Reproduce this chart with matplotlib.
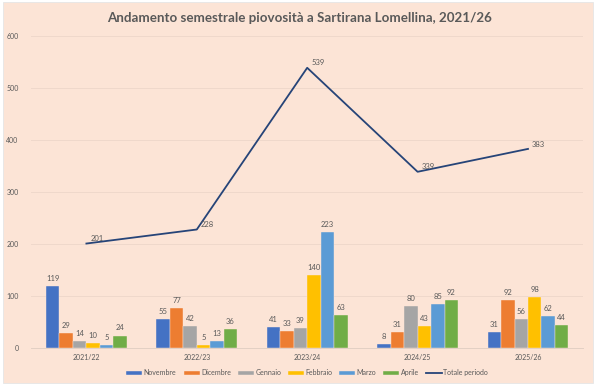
import numpy as np
import matplotlib
matplotlib.use("Agg")
import matplotlib.pyplot as plt
from matplotlib.patches import Rectangle

# Data
periods = ["2021/22", "2022/23", "2023/24", "2024/25", "2025/26"]
months = ["Novembre", "Dicembre", "Gennaio", "Febbraio", "Marzo", "Aprile"]
novembre = [119, 55, 41, 8, 31]
dicembre = [29, 77, 33, 31, 92]
gennaio = [14, 42, 39, 80, 56]
febbraio = [10, 5, 140, 43, 98]
marzo = [5, 13, 223, 85, 62]
aprile = [24, 36, 63, 92, 44]
totale = [201, 228, 539, 339, 383]

series = [novembre, dicembre, gennaio, febbraio, marzo, aprile]
colors = ["#4472C4", "#ED7D31", "#A5A5A5", "#FFC000", "#5B9BD5", "#70AD47"]
line_color = "#264478"
text_color = "#595959"
bg = "#FCE4D6"

plt.rcParams['font.family'] = ['Lato', 'DejaVu Sans']

fig = plt.figure(figsize=(6, 3.88), dpi=100, facecolor="white")
# peach chart area
fig.patches.append(Rectangle((0.005, 0.013), 0.983, 0.982, transform=fig.transFigure,
                             facecolor=bg, edgecolor="#E6E6E6", linewidth=0.6, zorder=-5))

ax = fig.add_axes([0.052, 0.103, 0.92, 0.804])
ax.patch.set_alpha(0)

x = np.arange(len(periods))
bw = 0.122
offsets = (np.arange(len(months)) - 2.5) * bw

handles = []
for i, (vals, col, name) in enumerate(zip(series, colors, months)):
    bars = ax.bar(x + offsets[i], vals, width=bw, color=col, label=name,
                  edgecolor=bg, linewidth=0.3, zorder=3)
    handles.append(bars)
    for xi, v in zip(x + offsets[i], vals):
        ax.text(xi, v + 8, str(v), ha="center", va="bottom", fontsize=5.5,
                color=text_color, zorder=5)

ln, = ax.plot(x, totale, color=line_color, linewidth=1.3, label="Totale periodo", zorder=4)
handles.append(ln)
for xi, v in zip(x, totale):
    ax.annotate(str(v), (xi, v), xytext=(3, 1), textcoords="offset points",
                ha="left", va="bottom", fontsize=5.5, color=text_color, zorder=5)

ax.set_xlim(-0.5, len(periods) - 0.5)
ax.set_ylim(0, 600)
ax.set_yticks(range(0, 601, 100))
ax.set_xticks(x)
ax.set_xticklabels(periods)
ax.tick_params(axis="both", length=0, labelsize=5, colors=text_color)
ax.tick_params(axis="x", pad=4)
ax.tick_params(axis="y", pad=9)
ax.grid(axis="y", color="#EFD8CB", linewidth=0.7, zorder=0)
for s in ["top", "right", "left"]:
    ax.spines[s].set_visible(False)
ax.spines["bottom"].set_color("#E3D0C4")
ax.spines["bottom"].set_linewidth(0.7)

fig.text(0.5, 0.953, "Andamento semestrale piovosità a Sartirana Lomellina, 2021/26",
         ha="center", va="center", fontsize=9.6, fontweight="bold", color=text_color)

ax.legend(handles, months + ["Totale periodo"], loc="center", bbox_to_anchor=(0.5, -0.08),
          ncol=7, frameon=False, fontsize=5, handlelength=2.3, handleheight=0.45,
          columnspacing=1.0, handletextpad=0.2, labelcolor=text_color)

fig.savefig("out.png", dpi=100, facecolor="white")
